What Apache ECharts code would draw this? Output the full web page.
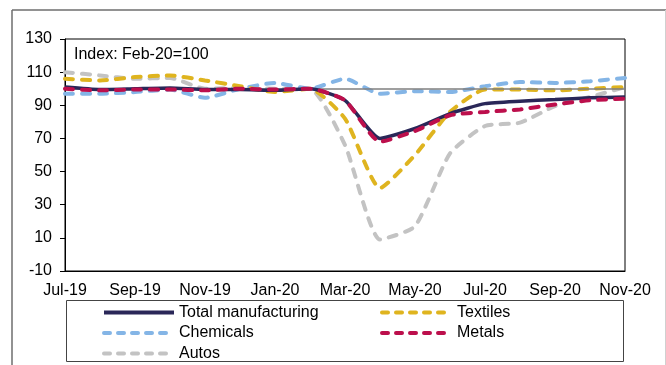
<!DOCTYPE html>
<html>
<head>
<meta charset="utf-8">
<script src="https://cdn.jsdelivr.net/npm/echarts@6/dist/echarts.min.js"></script>
<style>
  html, body { margin: 0; padding: 0; background: #fff; }
  #chart { width: 666px; height: 365px; }
</style>
</head>
<body>
<div id="chart"></div>
<script>
const months = ['Jul-19','Aug-19','Sep-19','Oct-19','Nov-19','Dec-19','Jan-20','Feb-20','Mar-20','Apr-20','May-20','Jun-20','Jul-20','Aug-20','Sep-20','Oct-20','Nov-20'];
const totalManufacturing = [101, 99.5, 100, 100.5, 99.5, 99.5, 99, 100, 93, 70, 76, 85, 91, 92.5, 93.5, 94.5, 95];
const textiles = [106, 105, 107, 108, 105, 101.5, 98, 100, 82, 40, 60, 86, 99.5, 99.5, 99, 100, 101];
const chemicals = [97, 97, 98, 99.5, 94.5, 100, 103.5, 100, 106, 97, 98.5, 98, 101.5, 104, 103.5, 104.5, 106.5];
const metals = [100, 99, 99.5, 99.5, 99, 100, 99.5, 100, 93, 68, 74.5, 84, 86, 87.5, 90.5, 93, 94];
const autos = [110, 108, 106, 106.5, 100, 100.5, 100, 100, 66, 9, 17, 61, 77.5, 79.5, 89.5, 95, 101];
const yTicks = { min: -10, max: 130, interval: 20 };
const baseLine = 100;

const FONT = 'Liberation Sans, Arial, sans-serif';
const FS = 16;
const dash = [8, 9];
const SMOOTH = 0.18;

function dashed(name, data, color, z) {
  return {
    name, type: 'line', data, symbol: 'none', smooth: SMOOTH, z,
    lineStyle: { color, width: 4, type: dash, cap: 'round' },
    itemStyle: { color }
  };
}

const dashedLegend = { width: 4, type: [6, 8], cap: 'round' };
function legendItem(name, isSolid) {
  return { name, lineStyle: isSolid ? { width: 4, type: 'solid', cap: 'butt' } : dashedLegend };
}

const legendCommon = {
  orient: 'vertical', padding: 0,
  itemWidth: 70, itemHeight: 14, itemGap: 4.5,
  itemStyle: { opacity: 0 },
  textStyle: { fontSize: FS, lineHeight: 16, color: '#000', fontFamily: FONT, padding: [0, 0, 0, 0] }
};

const chart = echarts.init(document.getElementById('chart'), null, { renderer: 'canvas' });
chart.setOption({
  animation: false,
  textStyle: { fontFamily: FONT },
  grid: { left: 65, right: 41, top: 39, bottom: 94, show: true, borderColor: '#000', borderWidth: 1, backgroundColor: 'transparent' },
  xAxis: {
    type: 'category', data: months, boundaryGap: false,
    axisLine: { onZero: false, lineStyle: { color: '#000', width: 1 } },
    axisTick: { show: false },
    axisLabel: { interval: 1, color: '#000', fontSize: FS, fontFamily: FONT, margin: 12 },
    splitLine: { show: false }
  },
  yAxis: {
    type: 'value', min: yTicks.min, max: yTicks.max, interval: yTicks.interval,
    axisLine: { show: true, lineStyle: { color: '#000', width: 1 } },
    axisTick: { show: true, length: 5, lineStyle: { color: '#000' } },
    axisLabel: { color: '#000', fontSize: FS, fontFamily: FONT, margin: 13, padding: [3, 0, 0, 0] },
    splitLine: { show: false }
  },
  legend: [
    Object.assign({ data: [legendItem('Total manufacturing', true), legendItem('Chemicals'), legendItem('Autos')], left: 102, top: 304.5 }, legendCommon),
    Object.assign({ data: [legendItem('Textiles'), legendItem('Metals')], left: 380, top: 304.5 }, legendCommon)
  ],
  graphic: [
    { type: 'line', shape: { x1: 12, y1: 10, x2: 666, y2: 10 }, style: { stroke: '#6e6e6e', lineWidth: 1.5 }, silent: true },
    { type: 'line', shape: { x1: 12, y1: 10, x2: 12, y2: 365 }, style: { stroke: '#6e6e6e', lineWidth: 1.5 }, silent: true },
    { type: 'line', shape: { x1: 665.5, y1: 10, x2: 665.5, y2: 365 }, style: { stroke: '#d0d0d0', lineWidth: 1 }, silent: true },
    { type: 'rect', shape: { x: 66.5, y: 300.5, width: 557, height: 61 }, style: { fill: 'none', stroke: '#444', lineWidth: 1 }, silent: true },
    { type: 'text', left: 74, top: 46.5, style: { text: 'Index: Feb-20=100', fontSize: FS, fill: '#000', fontFamily: FONT } }
  ],
  series: [
    {
      name: 'base', type: 'line', data: [], z: 1, silent: true,
      markLine: {
        silent: true, symbol: 'none', label: { show: false },
        lineStyle: { color: '#7f7f7f', width: 1.5, type: 'solid' },
        data: [{ yAxis: baseLine }]
      }
    },
    dashed('Autos', autos, '#c3c3c3', 2),
    dashed('Chemicals', chemicals, '#84b5e6', 3),
    dashed('Textiles', textiles, '#dfb41f', 4),
    {
      name: 'Total manufacturing', type: 'line', data: totalManufacturing, symbol: 'none', smooth: SMOOTH, z: 5,
      lineStyle: { color: '#2a2758', width: 3.5 }, itemStyle: { color: '#2a2758' }
    },
    dashed('Metals', metals, '#bc0f4c', 6)
  ]
});
</script>
</body>
</html>
